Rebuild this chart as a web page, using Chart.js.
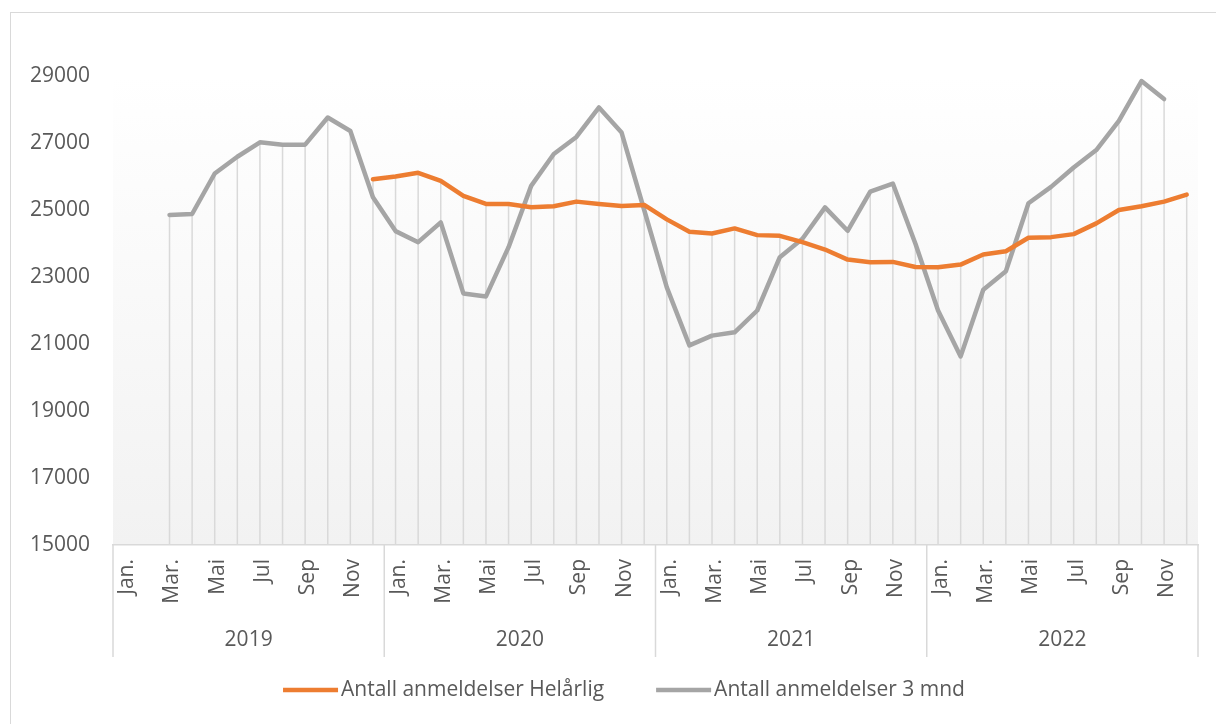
<!DOCTYPE html>
<html lang="no">
<head>
<meta charset="UTF-8">
<title>Antall anmeldelser</title>
<style>
    body {
        margin: 0;
        background: #ffffff;
        font-family: "Open Sans", sans-serif;
    }
    .wrap {
        position: relative;
        width: 1216px;
        height: 724px;
        overflow: hidden;
    }
    .frame {
        position: absolute;
        left: 10px;
        top: 12px;
        width: 1300px;
        height: 800px;
        border: 1px solid #d9d9d9;
        pointer-events: none;
    }
    #chart {
        position: absolute;
        left: 0;
        top: 0;
    }
</style>
</head>
<body>
<div class="wrap">
    <div class="frame"></div>
    <canvas id="chart" width="1216" height="724"></canvas>
</div>

<script src="https://cdn.jsdelivr.net/npm/chart.js"></script>
<script>
    // data
    const years = ['2019', '2020', '2021', '2022'];
    const months = ['Jan.', 'Feb.', 'Mar.', 'Apr.', 'Mai', 'Jun', 'Jul', 'Aug', 'Sep', 'Okt', 'Nov', 'Des'];

    const helarlig = [
        null, null, null, null, null, null, null, null, null, null, null, 25920,
        26000, 26110, 25870, 25420, 25180, 25180, 25080, 25110, 25250, 25180, 25120, 25150,
        24720, 24350, 24300, 24450, 24250, 24230, 24040, 23820, 23520, 23440, 23450, 23300,
        23290, 23370, 23670, 23770, 24170, 24190, 24280, 24600, 25000, 25110, 25250, 25460
    ];
    const treMnd = [
        null, null, 24850, 24880, 26090, 26590, 27020, 26950, 26950, 27760, 27360, 25380,
        24370, 24040, 24630, 22510, 22420, 23890, 25720, 26670, 27180, 28060, 27310, 25000,
        22690, 20960, 21250, 21350, 22000, 23590, 24140, 25080, 24380, 25550, 25790, 23990,
        22000, 20630, 22620, 23170, 25200, 25690, 26270, 26790, 27660, 28850, 28310, null
    ];
    const yTicks = [15000, 17000, 19000, 21000, 23000, 25000, 27000, 29000];

    const labels = [];
    years.forEach(y => months.forEach(m => labels.push(m)));

    const textColor = '#595959';
    const lineGray = '#d9d9d9';
    const fontCss = '21px "Open Sans", sans-serif';
    const font = { family: '"Open Sans", sans-serif', size: 21 };

    // plot background, drop lines, year row and legend (Excel look)
    const excelStyle = {
        id: 'excelStyle',
        beforeDraw(chart) {
            const { ctx, chartArea: a } = chart;
            const g = ctx.createLinearGradient(0, a.top, 0, a.bottom);
            g.addColorStop(0, '#ffffff');
            g.addColorStop(1, '#f2f2f2');
            ctx.save();
            ctx.fillStyle = g;
            ctx.fillRect(a.left, a.top, a.right - a.left, a.bottom - a.top);
            ctx.restore();
        },
        beforeDatasetsDraw(chart) {
            const { ctx, chartArea: a } = chart;
            const xs = chart.scales.x, ys = chart.scales.y;
            ctx.save();
            ctx.strokeStyle = lineGray;
            ctx.lineWidth = 1.5;
            labels.forEach((l, i) => {
                const vals = chart.data.datasets.map(d => d.data[i]).filter(v => v != null);
                if (!vals.length) return;
                const x = xs.getPixelForValue(i);
                ctx.beginPath();
                ctx.moveTo(x, ys.getPixelForValue(Math.max(...vals)));
                ctx.lineTo(x, a.bottom);
                ctx.stroke();
            });
            ctx.restore();
        },
        afterDraw(chart) {
            const { ctx, chartArea: a } = chart;
            const xs = chart.scales.x;
            const bottom = xs.bottom;
            const edge = i => i <= 0 ? xs.left : i >= labels.length ? xs.right
                : (xs.getPixelForValue(i - 1) + xs.getPixelForValue(i)) / 2;
            ctx.save();
            ctx.strokeStyle = lineGray;
            ctx.lineWidth = 1.5;
            for (let k = 0; k <= years.length; k++) {
                const x = edge(k * 12);
                ctx.beginPath();
                ctx.moveTo(x, a.bottom);
                ctx.lineTo(x, bottom);
                ctx.stroke();
            }
            ctx.fillStyle = textColor;
            ctx.font = fontCss;
            ctx.textAlign = 'center';
            ctx.textBaseline = 'middle';
            years.forEach((y, k) => {
                ctx.fillText(y, (edge(k * 12) + edge(k * 12 + 12)) / 2, bottom - 17);
            });

            // legend
            const sample = 55, gapText = 3, gapItem = 52;
            const items = chart.data.datasets.map(d => ({
                text: d.label, color: d.borderColor, w: ctx.measureText(d.label).width
            }));
            const total = items.reduce((s, it) => s + sample + gapText + it.w, 0) + gapItem * (items.length - 1);
            let x = 624 - total / 2;
            const y = bottom + 33;
            ctx.textAlign = 'left';
            ctx.lineWidth = 4.5;
            items.forEach(it => {
                ctx.strokeStyle = it.color;
                ctx.beginPath();
                ctx.moveTo(x, y);
                ctx.lineTo(x + sample, y);
                ctx.stroke();
                ctx.fillText(it.text, x + sample + gapText, y);
                x += sample + gapText + it.w + gapItem;
            });
            ctx.restore();
        }
    };

    new Chart(document.getElementById('chart'), {
        type: 'line',
        data: {
            labels: labels,
            datasets: [{
                label: 'Antall anmeldelser Helårlig',
                data: helarlig,
                borderColor: '#ED7D31',
                backgroundColor: '#ED7D31',
                borderWidth: 4.5,
                pointRadius: 0,
                borderJoinStyle: 'round',
                borderCapStyle: 'round',
                tension: 0
            }, {
                label: 'Antall anmeldelser 3 mnd',
                data: treMnd,
                borderColor: '#A5A5A5',
                backgroundColor: '#A5A5A5',
                borderWidth: 4.5,
                pointRadius: 0,
                borderJoinStyle: 'round',
                borderCapStyle: 'round',
                tension: 0
            }]
        },
        options: {
            responsive: false,
            animation: false,
            layout: {
                padding: { left: 0, right: 18, top: 76, bottom: 67 }
            },
            plugins: {
                tooltip: { enabled: false },
                legend: { display: false }
            },
            scales: {
                x: {
                    offset: true,
                    grid: { display: false, drawTicks: false },
                    border: { display: true, color: lineGray, width: 1.5 },
                    afterFit(scale) {
                        scale.height = 112;
                        scale.paddingRight = 0;
                        scale.paddingLeft = 0;
                    },
                    ticks: {
                        autoSkip: false,
                        maxRotation: 90,
                        minRotation: 90,
                        padding: 14,
                        labelOffset: 3,
                        color: textColor,
                        font: font,
                        callback: (v, i) => i % 2 === 0 ? labels[i] : ''
                    }
                },
                y: {
                    min: 15000,
                    max: 29000,
                    afterFit(scale) { scale.width = 113; },
                    afterBuildTicks(scale) { scale.ticks = yTicks.map(v => ({ value: v })); },
                    grid: { display: false, drawTicks: false },
                    border: { display: false },
                    ticks: {
                        padding: 23,
                        color: textColor,
                        font: font,
                        callback: v => String(v)
                    }
                }
            }
        },
        plugins: [excelStyle]
    });
</script>
</body>
</html>
